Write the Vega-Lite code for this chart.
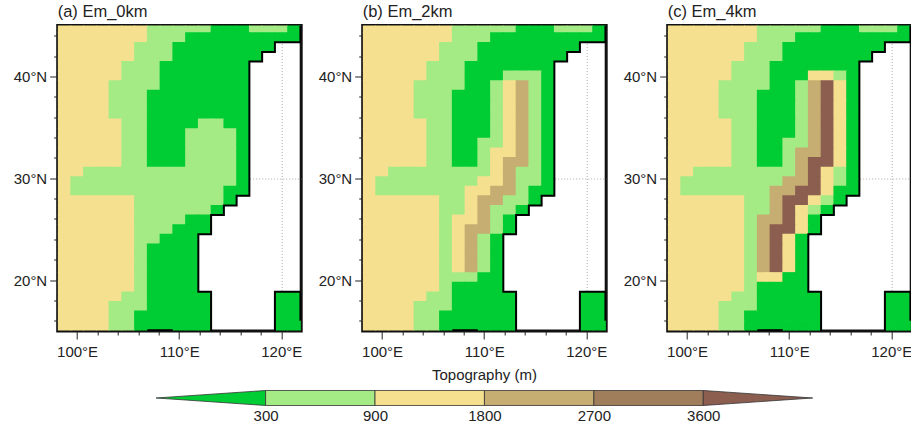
{"$schema":"https://vega.github.io/schema/vega-lite/v6.json","padding":{"left":10.7,"top":2.5,"right":0,"bottom":0},"background":"white","spacing":6,
"config":{"font":"Liberation Sans","view":{"stroke":"#111","strokeWidth":3},"title":{"fontSize":16.5,"fontWeight":"normal","anchor":"start","frame":"group","offset":5,"color":"#222"},
"axis":{"title":null,"labelFontSize":15,"labelColor":"#222","labelOverlap":false,"labelFlush":false,"tickColor":"#222","domain":false,"labelPadding":3,"zindex":1}},
"datasets":{"coast":[{"s":1,"o":1,"x":121.875,"y":45},{"s":1,"o":2,"x":121.875,"y":43.355},{"s":1,"o":3,"x":119.375,"y":43.355},{"s":1,"o":4,"x":119.375,"y":42.41},{"s":1,"o":5,"x":118.125,"y":42.41},{"s":1,"o":6,"x":118.125,"y":41.47},{"s":1,"o":7,"x":116.875,"y":41.47},{"s":1,"o":8,"x":116.875,"y":28.27},{"s":1,"o":9,"x":115.625,"y":28.27},{"s":1,"o":10,"x":115.625,"y":27.33},{"s":1,"o":11,"x":114.375,"y":27.33},{"s":1,"o":12,"x":114.375,"y":26.39},{"s":1,"o":13,"x":113.125,"y":26.39},{"s":1,"o":14,"x":113.125,"y":24.51},{"s":1,"o":15,"x":111.875,"y":24.51},{"s":1,"o":16,"x":111.875,"y":18.85},{"s":1,"o":17,"x":113.125,"y":18.85},{"s":1,"o":18,"x":113.125,"y":15},{"s":2,"o":1,"x":119.375,"y":15},{"s":2,"o":2,"x":119.375,"y":18.85},{"s":2,"o":3,"x":121.875,"y":18.85},{"s":2,"o":4,"x":121.875,"y":16},{"s":3,"o":1,"x":106.875,"y":15.08},{"s":3,"o":2,"x":109.375,"y":15.08}],
"common":[
{"x":98.75,"y":44.77,"v":1350},{"x":100,"y":44.77,"v":1350},{"x":101.25,"y":44.77,"v":1350},{"x":102.5,"y":44.77,"v":1350},{"x":103.75,"y":44.77,"v":1350},{"x":105,"y":44.77,"v":1350},{"x":106.25,"y":44.77,"v":1350},{"x":107.5,"y":44.77,"v":600},{"x":108.75,"y":44.77,"v":600},{"x":110,"y":44.77,"v":600},{"x":111.25,"y":44.77,"v":600},{"x":112.5,"y":44.77,"v":600},{"x":113.75,"y":44.77,"v":150},{"x":115,"y":44.77,"v":150},{"x":116.25,"y":44.77,"v":150},{"x":117.5,"y":44.77,"v":600},{"x":118.75,"y":44.77,"v":600},{"x":120,"y":44.77,"v":600},{"x":121.25,"y":44.77,"v":150},
{"x":98.75,"y":43.83,"v":1350},{"x":100,"y":43.83,"v":1350},{"x":101.25,"y":43.83,"v":1350},{"x":102.5,"y":43.83,"v":1350},{"x":103.75,"y":43.83,"v":1350},{"x":105,"y":43.83,"v":1350},{"x":106.25,"y":43.83,"v":1350},{"x":107.5,"y":43.83,"v":600},{"x":108.75,"y":43.83,"v":600},{"x":110,"y":43.83,"v":600},{"x":111.25,"y":43.83,"v":150},{"x":112.5,"y":43.83,"v":150},{"x":113.75,"y":43.83,"v":150},{"x":115,"y":43.83,"v":150},{"x":116.25,"y":43.83,"v":150},{"x":117.5,"y":43.83,"v":150},{"x":118.75,"y":43.83,"v":150},{"x":120,"y":43.83,"v":150},{"x":121.25,"y":43.83,"v":150},
{"x":98.75,"y":42.88,"v":1350},{"x":100,"y":42.88,"v":1350},{"x":101.25,"y":42.88,"v":1350},{"x":102.5,"y":42.88,"v":1350},{"x":103.75,"y":42.88,"v":1350},{"x":105,"y":42.88,"v":1350},{"x":106.25,"y":42.88,"v":600},{"x":107.5,"y":42.88,"v":600},{"x":108.75,"y":42.88,"v":600},{"x":110,"y":42.88,"v":150},{"x":111.25,"y":42.88,"v":150},{"x":112.5,"y":42.88,"v":150},{"x":113.75,"y":42.88,"v":150},{"x":115,"y":42.88,"v":150},{"x":116.25,"y":42.88,"v":150},{"x":117.5,"y":42.88,"v":150},{"x":118.75,"y":42.88,"v":150},
{"x":98.75,"y":41.94,"v":1350},{"x":100,"y":41.94,"v":1350},{"x":101.25,"y":41.94,"v":1350},{"x":102.5,"y":41.94,"v":1350},{"x":103.75,"y":41.94,"v":1350},{"x":105,"y":41.94,"v":1350},{"x":106.25,"y":41.94,"v":600},{"x":107.5,"y":41.94,"v":600},{"x":108.75,"y":41.94,"v":600},{"x":110,"y":41.94,"v":150},{"x":111.25,"y":41.94,"v":150},{"x":112.5,"y":41.94,"v":150},{"x":113.75,"y":41.94,"v":150},{"x":115,"y":41.94,"v":150},{"x":116.25,"y":41.94,"v":150},{"x":117.5,"y":41.94,"v":150},
{"x":98.75,"y":41,"v":1350},{"x":100,"y":41,"v":1350},{"x":101.25,"y":41,"v":1350},{"x":102.5,"y":41,"v":1350},{"x":103.75,"y":41,"v":1350},{"x":105,"y":41,"v":600},{"x":106.25,"y":41,"v":600},{"x":107.5,"y":41,"v":600},{"x":108.75,"y":41,"v":150},{"x":110,"y":41,"v":150},{"x":111.25,"y":41,"v":150},{"x":112.5,"y":41,"v":150},{"x":113.75,"y":41,"v":150},{"x":115,"y":41,"v":150},{"x":116.25,"y":41,"v":150},
{"x":98.75,"y":40.06,"v":1350},{"x":100,"y":40.06,"v":1350},{"x":101.25,"y":40.06,"v":1350},{"x":102.5,"y":40.06,"v":1350},{"x":103.75,"y":40.06,"v":1350},{"x":105,"y":40.06,"v":600},{"x":106.25,"y":40.06,"v":600},
{"x":98.75,"y":39.12,"v":1350},{"x":100,"y":39.12,"v":1350},{"x":101.25,"y":39.12,"v":1350},{"x":102.5,"y":39.12,"v":1350},{"x":103.75,"y":39.12,"v":600},{"x":105,"y":39.12,"v":600},{"x":106.25,"y":39.12,"v":600},
{"x":98.75,"y":38.17,"v":1350},{"x":100,"y":38.17,"v":1350},{"x":101.25,"y":38.17,"v":1350},{"x":102.5,"y":38.17,"v":1350},{"x":103.75,"y":38.17,"v":600},{"x":105,"y":38.17,"v":600},{"x":106.25,"y":38.17,"v":600},
{"x":98.75,"y":37.23,"v":1350},{"x":100,"y":37.23,"v":1350},{"x":101.25,"y":37.23,"v":1350},{"x":102.5,"y":37.23,"v":1350},{"x":103.75,"y":37.23,"v":600},{"x":105,"y":37.23,"v":600},{"x":106.25,"y":37.23,"v":600},
{"x":98.75,"y":36.29,"v":1350},{"x":100,"y":36.29,"v":1350},{"x":101.25,"y":36.29,"v":1350},{"x":102.5,"y":36.29,"v":1350},{"x":103.75,"y":36.29,"v":600},{"x":105,"y":36.29,"v":600},{"x":106.25,"y":36.29,"v":600},
{"x":98.75,"y":35.35,"v":1350},{"x":100,"y":35.35,"v":1350},{"x":101.25,"y":35.35,"v":1350},{"x":102.5,"y":35.35,"v":1350},{"x":103.75,"y":35.35,"v":1350},{"x":105,"y":35.35,"v":600},{"x":106.25,"y":35.35,"v":600},
{"x":98.75,"y":34.4,"v":1350},{"x":100,"y":34.4,"v":1350},{"x":101.25,"y":34.4,"v":1350},{"x":102.5,"y":34.4,"v":1350},{"x":103.75,"y":34.4,"v":1350},{"x":105,"y":34.4,"v":600},{"x":106.25,"y":34.4,"v":600},
{"x":98.75,"y":33.46,"v":1350},{"x":100,"y":33.46,"v":1350},{"x":101.25,"y":33.46,"v":1350},{"x":102.5,"y":33.46,"v":1350},{"x":103.75,"y":33.46,"v":1350},{"x":105,"y":33.46,"v":600},{"x":106.25,"y":33.46,"v":600},
{"x":98.75,"y":32.52,"v":1350},{"x":100,"y":32.52,"v":1350},{"x":101.25,"y":32.52,"v":1350},{"x":102.5,"y":32.52,"v":1350},{"x":103.75,"y":32.52,"v":1350},{"x":105,"y":32.52,"v":600},{"x":106.25,"y":32.52,"v":600},
{"x":98.75,"y":31.58,"v":1350},{"x":100,"y":31.58,"v":1350},{"x":101.25,"y":31.58,"v":1350},{"x":102.5,"y":31.58,"v":1350},{"x":103.75,"y":31.58,"v":1350},{"x":105,"y":31.58,"v":600},{"x":106.25,"y":31.58,"v":600},
{"x":98.75,"y":30.63,"v":1350},{"x":100,"y":30.63,"v":1350},{"x":101.25,"y":30.63,"v":600},{"x":102.5,"y":30.63,"v":600},{"x":103.75,"y":30.63,"v":600},{"x":105,"y":30.63,"v":600},{"x":106.25,"y":30.63,"v":600},
{"x":98.75,"y":29.69,"v":1350},{"x":100,"y":29.69,"v":600},{"x":101.25,"y":29.69,"v":600},{"x":102.5,"y":29.69,"v":600},{"x":103.75,"y":29.69,"v":600},{"x":105,"y":29.69,"v":600},{"x":106.25,"y":29.69,"v":600},
{"x":98.75,"y":28.75,"v":1350},{"x":100,"y":28.75,"v":600},{"x":101.25,"y":28.75,"v":600},{"x":102.5,"y":28.75,"v":600},{"x":103.75,"y":28.75,"v":600},{"x":105,"y":28.75,"v":600},{"x":106.25,"y":28.75,"v":600},
{"x":98.75,"y":27.81,"v":1350},{"x":100,"y":27.81,"v":1350},{"x":101.25,"y":27.81,"v":1350},{"x":102.5,"y":27.81,"v":1350},{"x":103.75,"y":27.81,"v":1350},{"x":105,"y":27.81,"v":1350},{"x":106.25,"y":27.81,"v":600},
{"x":98.75,"y":26.86,"v":1350},{"x":100,"y":26.86,"v":1350},{"x":101.25,"y":26.86,"v":1350},{"x":102.5,"y":26.86,"v":1350},{"x":103.75,"y":26.86,"v":1350},{"x":105,"y":26.86,"v":1350},{"x":106.25,"y":26.86,"v":600},
{"x":98.75,"y":25.92,"v":1350},{"x":100,"y":25.92,"v":1350},{"x":101.25,"y":25.92,"v":1350},{"x":102.5,"y":25.92,"v":1350},{"x":103.75,"y":25.92,"v":1350},{"x":105,"y":25.92,"v":1350},{"x":106.25,"y":25.92,"v":600},
{"x":98.75,"y":24.98,"v":1350},{"x":100,"y":24.98,"v":1350},{"x":101.25,"y":24.98,"v":1350},{"x":102.5,"y":24.98,"v":1350},{"x":103.75,"y":24.98,"v":1350},{"x":105,"y":24.98,"v":1350},{"x":106.25,"y":24.98,"v":600},
{"x":98.75,"y":24.04,"v":1350},{"x":100,"y":24.04,"v":1350},{"x":101.25,"y":24.04,"v":1350},{"x":102.5,"y":24.04,"v":1350},{"x":103.75,"y":24.04,"v":1350},{"x":105,"y":24.04,"v":1350},{"x":106.25,"y":24.04,"v":600},
{"x":98.75,"y":23.09,"v":1350},{"x":100,"y":23.09,"v":1350},{"x":101.25,"y":23.09,"v":1350},{"x":102.5,"y":23.09,"v":1350},{"x":103.75,"y":23.09,"v":1350},{"x":105,"y":23.09,"v":1350},{"x":106.25,"y":23.09,"v":600},
{"x":98.75,"y":22.15,"v":1350},{"x":100,"y":22.15,"v":1350},{"x":101.25,"y":22.15,"v":1350},{"x":102.5,"y":22.15,"v":1350},{"x":103.75,"y":22.15,"v":1350},{"x":105,"y":22.15,"v":1350},{"x":106.25,"y":22.15,"v":600},
{"x":98.75,"y":21.21,"v":1350},{"x":100,"y":21.21,"v":1350},{"x":101.25,"y":21.21,"v":1350},{"x":102.5,"y":21.21,"v":1350},{"x":103.75,"y":21.21,"v":1350},{"x":105,"y":21.21,"v":1350},{"x":106.25,"y":21.21,"v":600},
{"x":98.75,"y":20.27,"v":1350},{"x":100,"y":20.27,"v":1350},{"x":101.25,"y":20.27,"v":1350},{"x":102.5,"y":20.27,"v":1350},{"x":103.75,"y":20.27,"v":1350},{"x":105,"y":20.27,"v":1350},{"x":106.25,"y":20.27,"v":600},
{"x":98.75,"y":19.32,"v":1350},{"x":100,"y":19.32,"v":1350},{"x":101.25,"y":19.32,"v":1350},{"x":102.5,"y":19.32,"v":1350},{"x":103.75,"y":19.32,"v":1350},{"x":105,"y":19.32,"v":1350},{"x":106.25,"y":19.32,"v":600},
{"x":98.75,"y":18.38,"v":1350},{"x":100,"y":18.38,"v":1350},{"x":101.25,"y":18.38,"v":1350},{"x":102.5,"y":18.38,"v":1350},{"x":103.75,"y":18.38,"v":1350},{"x":105,"y":18.38,"v":600},{"x":106.25,"y":18.38,"v":600},{"x":107.5,"y":18.38,"v":150},{"x":108.75,"y":18.38,"v":150},{"x":110,"y":18.38,"v":150},{"x":111.25,"y":18.38,"v":150},{"x":112.5,"y":18.38,"v":150},{"x":120,"y":18.38,"v":150},{"x":121.25,"y":18.38,"v":150},
{"x":98.75,"y":17.44,"v":1350},{"x":100,"y":17.44,"v":1350},{"x":101.25,"y":17.44,"v":1350},{"x":102.5,"y":17.44,"v":1350},{"x":103.75,"y":17.44,"v":600},{"x":105,"y":17.44,"v":600},{"x":106.25,"y":17.44,"v":600},{"x":107.5,"y":17.44,"v":150},{"x":108.75,"y":17.44,"v":150},{"x":110,"y":17.44,"v":150},{"x":111.25,"y":17.44,"v":150},{"x":112.5,"y":17.44,"v":150},{"x":120,"y":17.44,"v":150},{"x":121.25,"y":17.44,"v":150},
{"x":98.75,"y":16.5,"v":1350},{"x":100,"y":16.5,"v":1350},{"x":101.25,"y":16.5,"v":1350},{"x":102.5,"y":16.5,"v":1350},{"x":103.75,"y":16.5,"v":600},{"x":105,"y":16.5,"v":600},{"x":106.25,"y":16.5,"v":150},{"x":107.5,"y":16.5,"v":150},{"x":108.75,"y":16.5,"v":150},{"x":110,"y":16.5,"v":150},{"x":111.25,"y":16.5,"v":150},{"x":112.5,"y":16.5,"v":150},{"x":120,"y":16.5,"v":150},{"x":121.25,"y":16.5,"v":150},
{"x":98.75,"y":15.55,"v":1350},{"x":100,"y":15.55,"v":1350},{"x":101.25,"y":15.55,"v":1350},{"x":102.5,"y":15.55,"v":1350},{"x":103.75,"y":15.55,"v":600},{"x":105,"y":15.55,"v":600},{"x":106.25,"y":15.55,"v":150},{"x":107.5,"y":15.55,"v":150},{"x":108.75,"y":15.55,"v":150},{"x":110,"y":15.55,"v":150},{"x":111.25,"y":15.55,"v":150},{"x":112.5,"y":15.55,"v":150},{"x":120,"y":15.55,"v":150},{"x":121.25,"y":15.55,"v":150}],
"a":[
{"x":107.5,"y":40.06,"v":600},{"x":108.75,"y":40.06,"v":150},{"x":110,"y":40.06,"v":150},{"x":111.25,"y":40.06,"v":150},{"x":112.5,"y":40.06,"v":150},{"x":113.75,"y":40.06,"v":150},{"x":115,"y":40.06,"v":150},{"x":116.25,"y":40.06,"v":150},
{"x":107.5,"y":39.12,"v":600},{"x":108.75,"y":39.12,"v":150},{"x":110,"y":39.12,"v":150},{"x":111.25,"y":39.12,"v":150},{"x":112.5,"y":39.12,"v":150},{"x":113.75,"y":39.12,"v":150},{"x":115,"y":39.12,"v":150},{"x":116.25,"y":39.12,"v":150},
{"x":107.5,"y":38.17,"v":150},{"x":108.75,"y":38.17,"v":150},{"x":110,"y":38.17,"v":150},{"x":111.25,"y":38.17,"v":150},{"x":112.5,"y":38.17,"v":150},{"x":113.75,"y":38.17,"v":150},{"x":115,"y":38.17,"v":150},{"x":116.25,"y":38.17,"v":150},
{"x":107.5,"y":37.23,"v":150},{"x":108.75,"y":37.23,"v":150},{"x":110,"y":37.23,"v":150},{"x":111.25,"y":37.23,"v":150},{"x":112.5,"y":37.23,"v":150},{"x":113.75,"y":37.23,"v":150},{"x":115,"y":37.23,"v":150},{"x":116.25,"y":37.23,"v":150},
{"x":107.5,"y":36.29,"v":150},{"x":108.75,"y":36.29,"v":150},{"x":110,"y":36.29,"v":150},{"x":111.25,"y":36.29,"v":150},{"x":112.5,"y":36.29,"v":150},{"x":113.75,"y":36.29,"v":150},{"x":115,"y":36.29,"v":150},{"x":116.25,"y":36.29,"v":150},
{"x":107.5,"y":35.35,"v":150},{"x":108.75,"y":35.35,"v":150},{"x":110,"y":35.35,"v":150},{"x":111.25,"y":35.35,"v":150},{"x":112.5,"y":35.35,"v":600},{"x":113.75,"y":35.35,"v":600},{"x":115,"y":35.35,"v":150},{"x":116.25,"y":35.35,"v":150},
{"x":107.5,"y":34.4,"v":150},{"x":108.75,"y":34.4,"v":150},{"x":110,"y":34.4,"v":150},{"x":111.25,"y":34.4,"v":600},{"x":112.5,"y":34.4,"v":600},{"x":113.75,"y":34.4,"v":600},{"x":115,"y":34.4,"v":600},{"x":116.25,"y":34.4,"v":150},
{"x":107.5,"y":33.46,"v":150},{"x":108.75,"y":33.46,"v":150},{"x":110,"y":33.46,"v":150},{"x":111.25,"y":33.46,"v":600},{"x":112.5,"y":33.46,"v":600},{"x":113.75,"y":33.46,"v":600},{"x":115,"y":33.46,"v":600},{"x":116.25,"y":33.46,"v":150},
{"x":107.5,"y":32.52,"v":150},{"x":108.75,"y":32.52,"v":150},{"x":110,"y":32.52,"v":150},{"x":111.25,"y":32.52,"v":600},{"x":112.5,"y":32.52,"v":600},{"x":113.75,"y":32.52,"v":600},{"x":115,"y":32.52,"v":600},{"x":116.25,"y":32.52,"v":150},
{"x":107.5,"y":31.58,"v":150},{"x":108.75,"y":31.58,"v":150},{"x":110,"y":31.58,"v":150},{"x":111.25,"y":31.58,"v":600},{"x":112.5,"y":31.58,"v":600},{"x":113.75,"y":31.58,"v":600},{"x":115,"y":31.58,"v":600},{"x":116.25,"y":31.58,"v":150},
{"x":107.5,"y":30.63,"v":600},{"x":108.75,"y":30.63,"v":600},{"x":110,"y":30.63,"v":600},{"x":111.25,"y":30.63,"v":600},{"x":112.5,"y":30.63,"v":600},{"x":113.75,"y":30.63,"v":600},{"x":115,"y":30.63,"v":600},{"x":116.25,"y":30.63,"v":150},
{"x":107.5,"y":29.69,"v":600},{"x":108.75,"y":29.69,"v":600},{"x":110,"y":29.69,"v":600},{"x":111.25,"y":29.69,"v":600},{"x":112.5,"y":29.69,"v":600},{"x":113.75,"y":29.69,"v":600},{"x":115,"y":29.69,"v":600},{"x":116.25,"y":29.69,"v":150},
{"x":107.5,"y":28.75,"v":600},{"x":108.75,"y":28.75,"v":600},{"x":110,"y":28.75,"v":600},{"x":111.25,"y":28.75,"v":600},{"x":112.5,"y":28.75,"v":600},{"x":113.75,"y":28.75,"v":600},{"x":115,"y":28.75,"v":150},{"x":116.25,"y":28.75,"v":150},
{"x":107.5,"y":27.81,"v":600},{"x":108.75,"y":27.81,"v":600},{"x":110,"y":27.81,"v":600},{"x":111.25,"y":27.81,"v":600},{"x":112.5,"y":27.81,"v":600},{"x":113.75,"y":27.81,"v":600},{"x":115,"y":27.81,"v":150},
{"x":107.5,"y":26.86,"v":600},{"x":108.75,"y":26.86,"v":600},{"x":110,"y":26.86,"v":600},{"x":111.25,"y":26.86,"v":600},{"x":112.5,"y":26.86,"v":600},{"x":113.75,"y":26.86,"v":150},
{"x":107.5,"y":25.92,"v":600},{"x":108.75,"y":25.92,"v":600},{"x":110,"y":25.92,"v":600},{"x":111.25,"y":25.92,"v":150},{"x":112.5,"y":25.92,"v":150},
{"x":107.5,"y":24.98,"v":600},{"x":108.75,"y":24.98,"v":600},{"x":110,"y":24.98,"v":150},{"x":111.25,"y":24.98,"v":150},{"x":112.5,"y":24.98,"v":150},
{"x":107.5,"y":24.04,"v":600},{"x":108.75,"y":24.04,"v":150},{"x":110,"y":24.04,"v":150},{"x":111.25,"y":24.04,"v":150},
{"x":107.5,"y":23.09,"v":150},{"x":108.75,"y":23.09,"v":150},{"x":110,"y":23.09,"v":150},{"x":111.25,"y":23.09,"v":150},
{"x":107.5,"y":22.15,"v":150},{"x":108.75,"y":22.15,"v":150},{"x":110,"y":22.15,"v":150},{"x":111.25,"y":22.15,"v":150},
{"x":107.5,"y":21.21,"v":150},{"x":108.75,"y":21.21,"v":150},{"x":110,"y":21.21,"v":150},{"x":111.25,"y":21.21,"v":150},
{"x":107.5,"y":20.27,"v":150},{"x":108.75,"y":20.27,"v":150},{"x":110,"y":20.27,"v":150},{"x":111.25,"y":20.27,"v":150},
{"x":107.5,"y":19.32,"v":150},{"x":108.75,"y":19.32,"v":150},{"x":110,"y":19.32,"v":150},{"x":111.25,"y":19.32,"v":150}],
"b":[
{"x":107.5,"y":40.06,"v":600},{"x":108.75,"y":40.06,"v":150},{"x":110,"y":40.06,"v":150},{"x":111.25,"y":40.06,"v":150},{"x":112.5,"y":40.06,"v":600},{"x":113.75,"y":40.06,"v":600},{"x":115,"y":40.06,"v":600},{"x":116.25,"y":40.06,"v":150},
{"x":107.5,"y":39.12,"v":600},{"x":108.75,"y":39.12,"v":150},{"x":110,"y":39.12,"v":150},{"x":111.25,"y":39.12,"v":600},{"x":112.5,"y":39.12,"v":1350},{"x":113.75,"y":39.12,"v":2250},{"x":115,"y":39.12,"v":600},{"x":116.25,"y":39.12,"v":150},
{"x":107.5,"y":38.17,"v":150},{"x":108.75,"y":38.17,"v":150},{"x":110,"y":38.17,"v":150},{"x":111.25,"y":38.17,"v":600},{"x":112.5,"y":38.17,"v":1350},{"x":113.75,"y":38.17,"v":2250},{"x":115,"y":38.17,"v":600},{"x":116.25,"y":38.17,"v":150},
{"x":107.5,"y":37.23,"v":150},{"x":108.75,"y":37.23,"v":150},{"x":110,"y":37.23,"v":150},{"x":111.25,"y":37.23,"v":600},{"x":112.5,"y":37.23,"v":1350},{"x":113.75,"y":37.23,"v":2250},{"x":115,"y":37.23,"v":600},{"x":116.25,"y":37.23,"v":150},
{"x":107.5,"y":36.29,"v":150},{"x":108.75,"y":36.29,"v":150},{"x":110,"y":36.29,"v":150},{"x":111.25,"y":36.29,"v":600},{"x":112.5,"y":36.29,"v":1350},{"x":113.75,"y":36.29,"v":2250},{"x":115,"y":36.29,"v":600},{"x":116.25,"y":36.29,"v":150},
{"x":107.5,"y":35.35,"v":150},{"x":108.75,"y":35.35,"v":150},{"x":110,"y":35.35,"v":150},{"x":111.25,"y":35.35,"v":600},{"x":112.5,"y":35.35,"v":1350},{"x":113.75,"y":35.35,"v":2250},{"x":115,"y":35.35,"v":600},{"x":116.25,"y":35.35,"v":150},
{"x":107.5,"y":34.4,"v":150},{"x":108.75,"y":34.4,"v":150},{"x":110,"y":34.4,"v":150},{"x":111.25,"y":34.4,"v":600},{"x":112.5,"y":34.4,"v":1350},{"x":113.75,"y":34.4,"v":2250},{"x":115,"y":34.4,"v":600},{"x":116.25,"y":34.4,"v":150},
{"x":107.5,"y":33.46,"v":150},{"x":108.75,"y":33.46,"v":150},{"x":110,"y":33.46,"v":600},{"x":111.25,"y":33.46,"v":600},{"x":112.5,"y":33.46,"v":1350},{"x":113.75,"y":33.46,"v":2250},{"x":115,"y":33.46,"v":600},{"x":116.25,"y":33.46,"v":150},
{"x":107.5,"y":32.52,"v":150},{"x":108.75,"y":32.52,"v":150},{"x":110,"y":32.52,"v":600},{"x":111.25,"y":32.52,"v":1350},{"x":112.5,"y":32.52,"v":1350},{"x":113.75,"y":32.52,"v":2250},{"x":115,"y":32.52,"v":600},{"x":116.25,"y":32.52,"v":150},
{"x":107.5,"y":31.58,"v":150},{"x":108.75,"y":31.58,"v":150},{"x":110,"y":31.58,"v":600},{"x":111.25,"y":31.58,"v":1350},{"x":112.5,"y":31.58,"v":2250},{"x":113.75,"y":31.58,"v":2250},{"x":115,"y":31.58,"v":600},{"x":116.25,"y":31.58,"v":150},
{"x":107.5,"y":30.63,"v":600},{"x":108.75,"y":30.63,"v":600},{"x":110,"y":30.63,"v":600},{"x":111.25,"y":30.63,"v":1350},{"x":112.5,"y":30.63,"v":2250},{"x":113.75,"y":30.63,"v":600},{"x":115,"y":30.63,"v":600},{"x":116.25,"y":30.63,"v":150},
{"x":107.5,"y":29.69,"v":600},{"x":108.75,"y":29.69,"v":600},{"x":110,"y":29.69,"v":1350},{"x":111.25,"y":29.69,"v":1350},{"x":112.5,"y":29.69,"v":2250},{"x":113.75,"y":29.69,"v":600},{"x":115,"y":29.69,"v":600},{"x":116.25,"y":29.69,"v":150},
{"x":107.5,"y":28.75,"v":600},{"x":108.75,"y":28.75,"v":1350},{"x":110,"y":28.75,"v":1350},{"x":111.25,"y":28.75,"v":2250},{"x":112.5,"y":28.75,"v":2250},{"x":113.75,"y":28.75,"v":600},{"x":115,"y":28.75,"v":150},{"x":116.25,"y":28.75,"v":150},
{"x":107.5,"y":27.81,"v":600},{"x":108.75,"y":27.81,"v":1350},{"x":110,"y":27.81,"v":2250},{"x":111.25,"y":27.81,"v":2250},{"x":112.5,"y":27.81,"v":600},{"x":113.75,"y":27.81,"v":600},{"x":115,"y":27.81,"v":150},
{"x":107.5,"y":26.86,"v":600},{"x":108.75,"y":26.86,"v":1350},{"x":110,"y":26.86,"v":2250},{"x":111.25,"y":26.86,"v":600},{"x":112.5,"y":26.86,"v":600},{"x":113.75,"y":26.86,"v":150},
{"x":107.5,"y":25.92,"v":1350},{"x":108.75,"y":25.92,"v":1350},{"x":110,"y":25.92,"v":2250},{"x":111.25,"y":25.92,"v":600},{"x":112.5,"y":25.92,"v":150},
{"x":107.5,"y":24.98,"v":1350},{"x":108.75,"y":24.98,"v":2250},{"x":110,"y":24.98,"v":2250},{"x":111.25,"y":24.98,"v":600},{"x":112.5,"y":24.98,"v":150},
{"x":107.5,"y":24.04,"v":1350},{"x":108.75,"y":24.04,"v":2250},{"x":110,"y":24.04,"v":600},{"x":111.25,"y":24.04,"v":150},
{"x":107.5,"y":23.09,"v":1350},{"x":108.75,"y":23.09,"v":2250},{"x":110,"y":23.09,"v":600},{"x":111.25,"y":23.09,"v":150},
{"x":107.5,"y":22.15,"v":1350},{"x":108.75,"y":22.15,"v":2250},{"x":110,"y":22.15,"v":600},{"x":111.25,"y":22.15,"v":150},
{"x":107.5,"y":21.21,"v":1350},{"x":108.75,"y":21.21,"v":2250},{"x":110,"y":21.21,"v":600},{"x":111.25,"y":21.21,"v":150},
{"x":107.5,"y":20.27,"v":600},{"x":108.75,"y":20.27,"v":600},{"x":110,"y":20.27,"v":150},{"x":111.25,"y":20.27,"v":150},
{"x":107.5,"y":19.32,"v":150},{"x":108.75,"y":19.32,"v":150},{"x":110,"y":19.32,"v":150},{"x":111.25,"y":19.32,"v":150}],
"c":[
{"x":107.5,"y":40.06,"v":600},{"x":108.75,"y":40.06,"v":150},{"x":110,"y":40.06,"v":150},{"x":111.25,"y":40.06,"v":150},{"x":112.5,"y":40.06,"v":1350},{"x":113.75,"y":40.06,"v":1350},{"x":115,"y":40.06,"v":600},{"x":116.25,"y":40.06,"v":150},
{"x":107.5,"y":39.12,"v":600},{"x":108.75,"y":39.12,"v":150},{"x":110,"y":39.12,"v":150},{"x":111.25,"y":39.12,"v":600},{"x":112.5,"y":39.12,"v":2250},{"x":113.75,"y":39.12,"v":3900},{"x":115,"y":39.12,"v":1350},{"x":116.25,"y":39.12,"v":150},
{"x":107.5,"y":38.17,"v":150},{"x":108.75,"y":38.17,"v":150},{"x":110,"y":38.17,"v":150},{"x":111.25,"y":38.17,"v":600},{"x":112.5,"y":38.17,"v":2250},{"x":113.75,"y":38.17,"v":3900},{"x":115,"y":38.17,"v":1350},{"x":116.25,"y":38.17,"v":150},
{"x":107.5,"y":37.23,"v":150},{"x":108.75,"y":37.23,"v":150},{"x":110,"y":37.23,"v":150},{"x":111.25,"y":37.23,"v":600},{"x":112.5,"y":37.23,"v":2250},{"x":113.75,"y":37.23,"v":3900},{"x":115,"y":37.23,"v":1350},{"x":116.25,"y":37.23,"v":150},
{"x":107.5,"y":36.29,"v":150},{"x":108.75,"y":36.29,"v":150},{"x":110,"y":36.29,"v":150},{"x":111.25,"y":36.29,"v":600},{"x":112.5,"y":36.29,"v":2250},{"x":113.75,"y":36.29,"v":3900},{"x":115,"y":36.29,"v":1350},{"x":116.25,"y":36.29,"v":150},
{"x":107.5,"y":35.35,"v":150},{"x":108.75,"y":35.35,"v":150},{"x":110,"y":35.35,"v":150},{"x":111.25,"y":35.35,"v":600},{"x":112.5,"y":35.35,"v":2250},{"x":113.75,"y":35.35,"v":3900},{"x":115,"y":35.35,"v":1350},{"x":116.25,"y":35.35,"v":150},
{"x":107.5,"y":34.4,"v":150},{"x":108.75,"y":34.4,"v":150},{"x":110,"y":34.4,"v":150},{"x":111.25,"y":34.4,"v":600},{"x":112.5,"y":34.4,"v":2250},{"x":113.75,"y":34.4,"v":3900},{"x":115,"y":34.4,"v":1350},{"x":116.25,"y":34.4,"v":150},
{"x":107.5,"y":33.46,"v":150},{"x":108.75,"y":33.46,"v":150},{"x":110,"y":33.46,"v":600},{"x":111.25,"y":33.46,"v":600},{"x":112.5,"y":33.46,"v":2250},{"x":113.75,"y":33.46,"v":3900},{"x":115,"y":33.46,"v":1350},{"x":116.25,"y":33.46,"v":150},
{"x":107.5,"y":32.52,"v":150},{"x":108.75,"y":32.52,"v":150},{"x":110,"y":32.52,"v":600},{"x":111.25,"y":32.52,"v":2250},{"x":112.5,"y":32.52,"v":2250},{"x":113.75,"y":32.52,"v":3900},{"x":115,"y":32.52,"v":1350},{"x":116.25,"y":32.52,"v":150},
{"x":107.5,"y":31.58,"v":150},{"x":108.75,"y":31.58,"v":150},{"x":110,"y":31.58,"v":600},{"x":111.25,"y":31.58,"v":2250},{"x":112.5,"y":31.58,"v":3900},{"x":113.75,"y":31.58,"v":3900},{"x":115,"y":31.58,"v":1350},{"x":116.25,"y":31.58,"v":150},
{"x":107.5,"y":30.63,"v":600},{"x":108.75,"y":30.63,"v":600},{"x":110,"y":30.63,"v":600},{"x":111.25,"y":30.63,"v":2250},{"x":112.5,"y":30.63,"v":3900},{"x":113.75,"y":30.63,"v":1350},{"x":115,"y":30.63,"v":600},{"x":116.25,"y":30.63,"v":150},
{"x":107.5,"y":29.69,"v":600},{"x":108.75,"y":29.69,"v":600},{"x":110,"y":29.69,"v":2250},{"x":111.25,"y":29.69,"v":2250},{"x":112.5,"y":29.69,"v":3900},{"x":113.75,"y":29.69,"v":1350},{"x":115,"y":29.69,"v":600},{"x":116.25,"y":29.69,"v":150},
{"x":107.5,"y":28.75,"v":600},{"x":108.75,"y":28.75,"v":2250},{"x":110,"y":28.75,"v":2250},{"x":111.25,"y":28.75,"v":3900},{"x":112.5,"y":28.75,"v":3900},{"x":113.75,"y":28.75,"v":1350},{"x":115,"y":28.75,"v":150},{"x":116.25,"y":28.75,"v":150},
{"x":107.5,"y":27.81,"v":600},{"x":108.75,"y":27.81,"v":2250},{"x":110,"y":27.81,"v":3900},{"x":111.25,"y":27.81,"v":3900},{"x":112.5,"y":27.81,"v":1350},{"x":113.75,"y":27.81,"v":600},{"x":115,"y":27.81,"v":150},
{"x":107.5,"y":26.86,"v":600},{"x":108.75,"y":26.86,"v":2250},{"x":110,"y":26.86,"v":3900},{"x":111.25,"y":26.86,"v":1350},{"x":112.5,"y":26.86,"v":600},{"x":113.75,"y":26.86,"v":150},
{"x":107.5,"y":25.92,"v":2250},{"x":108.75,"y":25.92,"v":2250},{"x":110,"y":25.92,"v":3900},{"x":111.25,"y":25.92,"v":1350},{"x":112.5,"y":25.92,"v":150},
{"x":107.5,"y":24.98,"v":2250},{"x":108.75,"y":24.98,"v":3900},{"x":110,"y":24.98,"v":3900},{"x":111.25,"y":24.98,"v":1350},{"x":112.5,"y":24.98,"v":150},
{"x":107.5,"y":24.04,"v":2250},{"x":108.75,"y":24.04,"v":3900},{"x":110,"y":24.04,"v":1350},{"x":111.25,"y":24.04,"v":150},
{"x":107.5,"y":23.09,"v":2250},{"x":108.75,"y":23.09,"v":3900},{"x":110,"y":23.09,"v":1350},{"x":111.25,"y":23.09,"v":150},
{"x":107.5,"y":22.15,"v":2250},{"x":108.75,"y":22.15,"v":3900},{"x":110,"y":22.15,"v":1350},{"x":111.25,"y":22.15,"v":150},
{"x":107.5,"y":21.21,"v":2250},{"x":108.75,"y":21.21,"v":3900},{"x":110,"y":21.21,"v":1350},{"x":111.25,"y":21.21,"v":150},
{"x":107.5,"y":20.27,"v":1350},{"x":108.75,"y":20.27,"v":1350},{"x":110,"y":20.27,"v":150},{"x":111.25,"y":20.27,"v":150},
{"x":107.5,"y":19.32,"v":150},{"x":108.75,"y":19.32,"v":150},{"x":110,"y":19.32,"v":150},{"x":111.25,"y":19.32,"v":150}],
"bar":[{"x":0,"y":0.5,"y2":0.5,"v":150},{"x":1,"y":0,"y2":1,"v":150},{"x":1,"y":0,"y2":1,"v":600},{"x":2,"y":0,"y2":1,"v":600},{"x":2,"y":0,"y2":1,"v":1350},{"x":3,"y":0,"y2":1,"v":1350},{"x":3,"y":0,"y2":1,"v":2250},{"x":4,"y":0,"y2":1,"v":2250},{"x":4,"y":0,"y2":1,"v":3150},{"x":5,"y":0,"y2":1,"v":3150},{"x":5,"y":0,"y2":1,"v":3900},{"x":6,"y":0.5,"y2":0.5,"v":3900}]},
"vconcat":[{"hconcat":[
{"title":"(a) Em_0km","width":243.5,"height":305.5,
"encoding":{"x":{"field":"x","type":"quantitative","scale":{"domain":[98.1,121.95],"nice":false,"zero":false},"axis":{"values":[100,102,104,106,108,110,112,114,116,118,120,122,98],"labelPadding":6,"labelExpr":"datum.value%10===0?datum.value+'°E':''","tickSize":{"condition":{"test":"datum.value%10===0","value":8},"value":4},"grid":true,"gridDash":[1,2],"gridColor":"#888","gridOpacity":{"condition":{"test":"datum.value===120","value":0.7},"value":0}}},
"y":{"field":"y","type":"quantitative","scale":{"domain":[15,45],"nice":false,"zero":false},"axis":{"values":[16,18,20,22,24,26,28,30,32,34,36,38,40,42,44],"labelExpr":"datum.value%10===0?datum.value+'°N':''","tickSize":{"condition":{"test":"datum.value%10===0","value":8},"value":4},"grid":true,"gridDash":[1,2],"gridColor":"#888","gridOpacity":{"condition":{"test":"datum.value===30","value":0.7},"value":0}}}},
"layer":[{"data":{"name":"common"},"mark":{"type":"rect","width":13.6,"height":10.4,"clip":true},"encoding":{"color":{"field":"v","type":"quantitative","legend":null,"scale":{"type":"threshold","domain":[300,900,1800,2700,3600],"range":["#00CC33","#A5EB85","#F5E08F","#C6AE72","#A07D5B","#8B5E50"]}}}},
{"data":{"name":"a"},"mark":{"type":"rect","width":13.6,"height":10.4,"clip":true},"encoding":{"color":{"field":"v","type":"quantitative","legend":null,"scale":{"type":"threshold","domain":[300,900,1800,2700,3600],"range":["#00CC33","#A5EB85","#F5E08F","#C6AE72","#A07D5B","#8B5E50"]}}}},
{"data":{"name":"coast"},"mark":{"type":"line","color":"black","strokeWidth":2,"strokeJoin":"miter","clip":true},"encoding":{"detail":{"field":"s"},"order":{"field":"o","type":"quantitative"}}}]},
{"title":"(b) Em_2km","width":243.5,"height":305.5,
"encoding":{"x":{"field":"x","type":"quantitative","scale":{"domain":[98.1,121.95],"nice":false,"zero":false},"axis":{"values":[100,102,104,106,108,110,112,114,116,118,120,122,98],"labelPadding":6,"labelExpr":"datum.value%10===0?datum.value+'°E':''","tickSize":{"condition":{"test":"datum.value%10===0","value":8},"value":4},"grid":true,"gridDash":[1,2],"gridColor":"#888","gridOpacity":{"condition":{"test":"datum.value===120","value":0.7},"value":0}}},
"y":{"field":"y","type":"quantitative","scale":{"domain":[15,45],"nice":false,"zero":false},"axis":{"values":[16,18,20,22,24,26,28,30,32,34,36,38,40,42,44],"labelExpr":"datum.value%10===0?datum.value+'°N':''","tickSize":{"condition":{"test":"datum.value%10===0","value":8},"value":4},"grid":true,"gridDash":[1,2],"gridColor":"#888","gridOpacity":{"condition":{"test":"datum.value===30","value":0.7},"value":0}}}},
"layer":[{"data":{"name":"common"},"mark":{"type":"rect","width":13.6,"height":10.4,"clip":true},"encoding":{"color":{"field":"v","type":"quantitative","legend":null,"scale":{"type":"threshold","domain":[300,900,1800,2700,3600],"range":["#00CC33","#A5EB85","#F5E08F","#C6AE72","#A07D5B","#8B5E50"]}}}},
{"data":{"name":"b"},"mark":{"type":"rect","width":13.6,"height":10.4,"clip":true},"encoding":{"color":{"field":"v","type":"quantitative","legend":null,"scale":{"type":"threshold","domain":[300,900,1800,2700,3600],"range":["#00CC33","#A5EB85","#F5E08F","#C6AE72","#A07D5B","#8B5E50"]}}}},
{"data":{"name":"coast"},"mark":{"type":"line","color":"black","strokeWidth":2,"strokeJoin":"miter","clip":true},"encoding":{"detail":{"field":"s"},"order":{"field":"o","type":"quantitative"}}}]},
{"title":"(c) Em_4km","width":243.5,"height":305.5,
"encoding":{"x":{"field":"x","type":"quantitative","scale":{"domain":[98.1,121.95],"nice":false,"zero":false},"axis":{"values":[100,102,104,106,108,110,112,114,116,118,120,122,98],"labelPadding":6,"labelExpr":"datum.value%10===0?datum.value+'°E':''","tickSize":{"condition":{"test":"datum.value%10===0","value":8},"value":4},"grid":true,"gridDash":[1,2],"gridColor":"#888","gridOpacity":{"condition":{"test":"datum.value===120","value":0.7},"value":0}}},
"y":{"field":"y","type":"quantitative","scale":{"domain":[15,45],"nice":false,"zero":false},"axis":{"values":[16,18,20,22,24,26,28,30,32,34,36,38,40,42,44],"labelExpr":"datum.value%10===0?datum.value+'°N':''","tickSize":{"condition":{"test":"datum.value%10===0","value":8},"value":4},"grid":true,"gridDash":[1,2],"gridColor":"#888","gridOpacity":{"condition":{"test":"datum.value===30","value":0.7},"value":0}}}},
"layer":[{"data":{"name":"common"},"mark":{"type":"rect","width":13.6,"height":10.4,"clip":true},"encoding":{"color":{"field":"v","type":"quantitative","legend":null,"scale":{"type":"threshold","domain":[300,900,1800,2700,3600],"range":["#00CC33","#A5EB85","#F5E08F","#C6AE72","#A07D5B","#8B5E50"]}}}},
{"data":{"name":"c"},"mark":{"type":"rect","width":13.6,"height":10.4,"clip":true},"encoding":{"color":{"field":"v","type":"quantitative","legend":null,"scale":{"type":"threshold","domain":[300,900,1800,2700,3600],"range":["#00CC33","#A5EB85","#F5E08F","#C6AE72","#A07D5B","#8B5E50"]}}}},
{"data":{"name":"coast"},"mark":{"type":"line","color":"black","strokeWidth":2,"strokeJoin":"miter","clip":true},"encoding":{"detail":{"field":"s"},"order":{"field":"o","type":"quantitative"}}}]}
],"spacing":61,"bounds":"flush"},
{"title":{"text":"Topography (m)","anchor":"middle","fontSize":15,"offset":6},"width":853.5,"height":15,"view":{"stroke":null},"data":{"name":"bar"},
"mark":{"type":"area","stroke":"#333","strokeWidth":0.8},
"encoding":{"x":{"field":"x","type":"quantitative","scale":{"domain":[-0.9,6.9],"nice":false,"zero":false},"axis":{"values":[1,2,3,4,5],"labelExpr":"['','300','900','1800','2700','3600'][datum.value]","ticks":false,"grid":false,"labelFontSize":15,"labelPadding":3}},
"y":{"field":"y","type":"quantitative","scale":{"domain":[0,1],"nice":false,"zero":false},"axis":null},"y2":{"field":"y2"},"detail":{"field":"v"},
"color":{"field":"v","type":"quantitative","legend":null,"scale":{"type":"threshold","domain":[300,900,1800,2700,3600],"range":["#00CC33","#A5EB85","#F5E08F","#C6AE72","#A07D5B","#8B5E50"]}}}}
]}
